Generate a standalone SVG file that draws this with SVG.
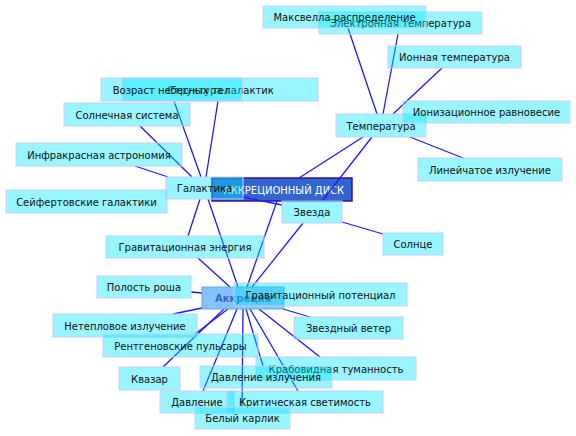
<svg xmlns="http://www.w3.org/2000/svg" width="576" height="436" viewBox="0 0 576 436">
<style>
.n rect{fill:#00e5ff;fill-opacity:0.4;stroke:#c4cfff;stroke-width:1}
.n text{font-family:"DejaVu Sans",sans-serif;font-size:10px;fill:#111;text-anchor:middle}
#disk rect{fill:#3366cc;stroke:#3311aa;stroke-width:1.5}
#disk text{font-family:"DejaVu Sans",sans-serif;font-size:10px;fill:#fff;text-anchor:middle}
#akkreciya rect{fill:#3399ff;fill-opacity:0.6;stroke:#66aadd;stroke-width:1}
#akkreciya text{font-family:"DejaVu Sans",sans-serif;font-size:10px;font-weight:bold;fill:#3366cc;text-anchor:middle}
.c line{stroke:#1a1aff;stroke-width:1.3}
</style>
<rect width="576" height="436" fill="#fff"/>
<g id="disk"><rect x="212" y="178" width="140" height="23"/><text x="284" y="193.5">АККРЕЦИОННЫЙ ДИСК</text></g>
<g class="c" id="connectors">
<line x1="348" y1="28" x2="377" y2="114"/>
<line x1="398" y1="34" x2="383" y2="114"/>
<line x1="442" y1="68" x2="393" y2="114"/>
<line x1="410" y1="137" x2="463" y2="158"/>
<line x1="363" y1="137" x2="299" y2="178"/>
<line x1="372" y1="137" x2="322" y2="201"/>
<line x1="342" y1="222" x2="383" y2="234"/>
<line x1="243" y1="197" x2="282" y2="205"/>
<line x1="174" y1="101" x2="201" y2="177"/>
<line x1="218" y1="101" x2="206" y2="177"/>
<line x1="140" y1="126" x2="192" y2="177"/>
<line x1="135" y1="166" x2="168" y2="177"/>
<line x1="200" y1="199" x2="188" y2="236"/>
<line x1="208" y1="199" x2="238" y2="287"/>
<line x1="277" y1="201" x2="247" y2="287"/>
<line x1="303" y1="223" x2="252" y2="287"/>
<line x1="198" y1="258" x2="230" y2="287"/>
<line x1="191" y1="292" x2="202" y2="293"/>
<line x1="173" y1="314" x2="202" y2="308"/>
<line x1="195" y1="334" x2="228" y2="309"/>
<line x1="163" y1="367" x2="224" y2="309"/>
<line x1="203" y1="391" x2="237" y2="309"/>
<line x1="242" y1="407" x2="243" y2="309"/>
<line x1="263" y1="366" x2="246" y2="309"/>
<line x1="298" y1="391" x2="250" y2="309"/>
<line x1="320" y1="357" x2="259" y2="309"/>
<line x1="310" y1="317" x2="283" y2="309"/>
</g>
<g class="n" id="galaktika"><rect x="166" y="177" width="77" height="22"/><text x="204.5" y="192">Галактика</text></g>
<g class="n" id="zvezda"><rect x="282" y="201" width="60" height="22"/><text x="312" y="216">Звезда</text></g>
<g class="n" id="solnce"><rect x="383" y="233" width="60" height="22"/><text x="413" y="248">Солнце</text></g>
<g class="n" id="temperatura"><rect x="336" y="114" width="90" height="23"/><text x="381" y="129.5">Температура</text></g>
<g class="n" id="ioniz"><rect x="403" y="101" width="167" height="22"/><text x="486.5" y="116">Ионизационное равновесие</text></g>
<g class="n" id="lineych"><rect x="418" y="158" width="144" height="23"/><text x="490" y="173.5">Линейчатое излучение</text></g>
<g class="n" id="ionnaya"><rect x="388" y="46" width="133" height="22"/><text x="454.5" y="61">Ионная температура</text></g>
<g class="n" id="elektron"><rect x="319" y="12" width="163" height="22"/><text x="400.5" y="27">Электронная температура</text></g>
<g class="n" id="maxwell"><rect x="263" y="6" width="163" height="22"/><text x="344.5" y="21">Максвелла распределение</text></g>
<g class="n" id="struktura"><rect x="123" y="78" width="195" height="23"/><text x="220.5" y="93.5">Структура галактик</text></g>
<g class="n" id="vozrast"><rect x="101" y="78" width="141" height="23"/><text x="171.5" y="93.5">Возраст небесных тел</text></g>
<g class="n" id="solnech"><rect x="64" y="103" width="126" height="23"/><text x="127" y="118.5">Солнечная система</text></g>
<g class="n" id="infrakr"><rect x="16" y="143" width="166" height="23"/><text x="99" y="158.5">Инфракрасная астрономия</text></g>
<g class="n" id="seyfert"><rect x="6" y="190" width="161" height="23"/><text x="86.5" y="205.5">Сейфертовские галактики</text></g>
<g class="n" id="gravenerg"><rect x="106" y="236" width="158" height="22"/><text x="185" y="251">Гравитационная энергия</text></g>
<g class="n" id="polost"><rect x="97" y="276" width="94" height="22"/><text x="144" y="291">Полость роша</text></g>
<g id="akkreciya"><rect x="202" y="287" width="82" height="22"/><text x="243" y="302">Аккреция</text></g>
<g class="n" id="gravpot"><rect x="234" y="283" width="173" height="23"/><text x="320.5" y="298.5">Гравитационный потенциал</text></g>
<g class="n" id="neteplovoe"><rect x="53" y="314" width="144" height="23"/><text x="125" y="329.5">Нетепловое излучение</text></g>
<g class="n" id="rentgen"><rect x="103" y="334" width="155" height="23"/><text x="180.5" y="349.5">Рентгеновские пульсары</text></g>
<g class="n" id="zvveter"><rect x="294" y="317" width="109" height="22"/><text x="348.5" y="332">Звездный ветер</text></g>
<g class="n" id="krab"><rect x="256" y="357" width="160" height="23"/><text x="336" y="372.5">Крабовидная туманность</text></g>
<g class="n" id="kvazar"><rect x="119" y="367" width="61" height="23"/><text x="149.5" y="382.5">Квазар</text></g>
<g class="n" id="davlizl"><rect x="200" y="366" width="132" height="22"/><text x="266" y="381">Давление излучения</text></g>
<g class="n" id="davlenie"><rect x="160" y="391" width="74" height="22"/><text x="197" y="406">Давление</text></g>
<g class="n" id="krit"><rect x="227" y="391" width="156" height="22"/><text x="305" y="406">Критическая светимость</text></g>
<g class="n" id="beliy"><rect x="195" y="407" width="95" height="22"/><text x="242.5" y="422">Белый карлик</text></g>
</svg>
